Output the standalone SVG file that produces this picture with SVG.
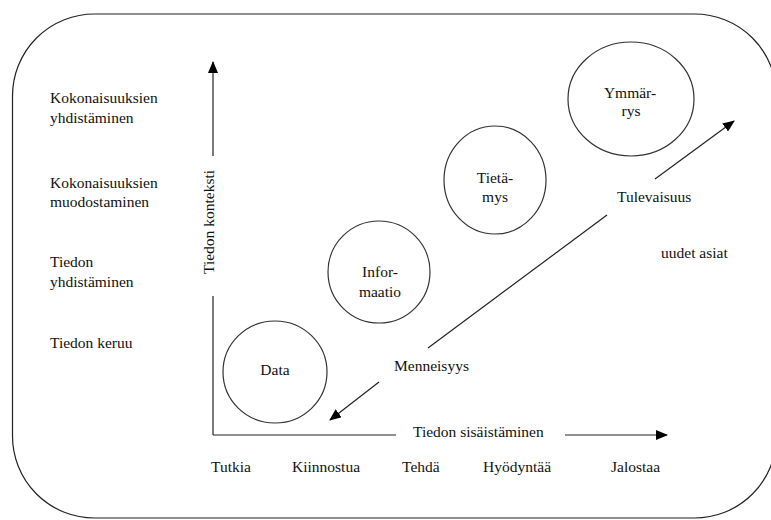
<svg xmlns="http://www.w3.org/2000/svg" width="771" height="520" viewBox="0 0 771 520">
  <defs>
    <marker id="arr" markerUnits="userSpaceOnUse" markerWidth="12" markerHeight="10" refX="11" refY="5" orient="auto">
      <path d="M0,0 L12,5 L0,10 z" fill="#000"/>
    </marker>
    <style>
      text { font-family: "Liberation Serif", "Times New Roman", serif; font-size: 15.5px; fill: #111; }
      .c text { text-anchor: middle; }
      .node { fill: #fff; stroke: #333; stroke-width: 1.2; }
      .ln { stroke: #222; stroke-width: 1.2; fill: none; }
    </style>
  </defs>
  <rect x="0" y="0" width="771" height="520" fill="#fff"/>
  <rect x="12.5" y="14" width="764" height="504" rx="82" ry="82" fill="none" stroke="#222" stroke-width="1.2"/>

  <g id="connectors">
    <line class="ln" x1="213" y1="156" x2="213" y2="62" marker-end="url(#arr)"/>
    <line class="ln" x1="213" y1="296" x2="213" y2="435"/>
    <line class="ln" x1="213" y1="435" x2="396" y2="435"/>
    <line class="ln" x1="565" y1="435" x2="667" y2="435" marker-end="url(#arr)"/>
    <line class="ln" x1="428" y1="348" x2="607" y2="215"/>
    <line class="ln" x1="655" y1="179" x2="734" y2="121" marker-end="url(#arr)"/>
    <line class="ln" x1="379" y1="382" x2="330" y2="420" marker-end="url(#arr)"/>
  </g>

  <g id="axis-labels">
    <text x="0" y="0" transform="translate(214,222) rotate(-90)" text-anchor="middle">Tiedon konteksti</text>
    <text x="413" y="437">Tiedon sisäistäminen</text>
    <text x="394" y="371">Menneisyys</text>
    <text x="617" y="202">Tulevaisuus</text>
    <text x="661" y="258">uudet asiat</text>
  </g>

  <g id="left-labels">
    <text x="50" y="103">Kokonaisuuksien</text>
    <text x="50" y="123">yhdistäminen</text>
    <text x="50" y="188">Kokonaisuuksien</text>
    <text x="50" y="207">muodostaminen</text>
    <text x="50" y="267">Tiedon</text>
    <text x="50" y="287">yhdistäminen</text>
    <text x="50" y="348">Tiedon keruu</text>
  </g>

  <g id="bottom-labels">
    <text x="211" y="472">Tutkia</text>
    <text x="292" y="472">Kiinnostua</text>
    <text x="402" y="472">Tehdä</text>
    <text x="483" y="472">Hyödyntää</text>
    <text x="611" y="472">Jalostaa</text>
  </g>

  <g id="data" class="c">
    <ellipse class="node" cx="275" cy="372" rx="52" ry="51"/>
    <text x="275" y="375">Data</text>
  </g>
  <g id="informaatio" class="c">
    <ellipse class="node" cx="379" cy="272" rx="51" ry="51"/>
    <text x="380" y="277">Infor-</text>
    <text x="380" y="297">maatio</text>
  </g>
  <g id="tietamys" class="c">
    <ellipse class="node" cx="495" cy="180" rx="51" ry="54"/>
    <text x="495" y="183">Tietä-</text>
    <text x="495" y="202">mys</text>
  </g>
  <g id="ymmarrys" class="c">
    <ellipse class="node" cx="631" cy="99" rx="63" ry="57"/>
    <text x="630" y="98">Ymmär-</text>
    <text x="631" y="116">rys</text>
  </g>
</svg>
